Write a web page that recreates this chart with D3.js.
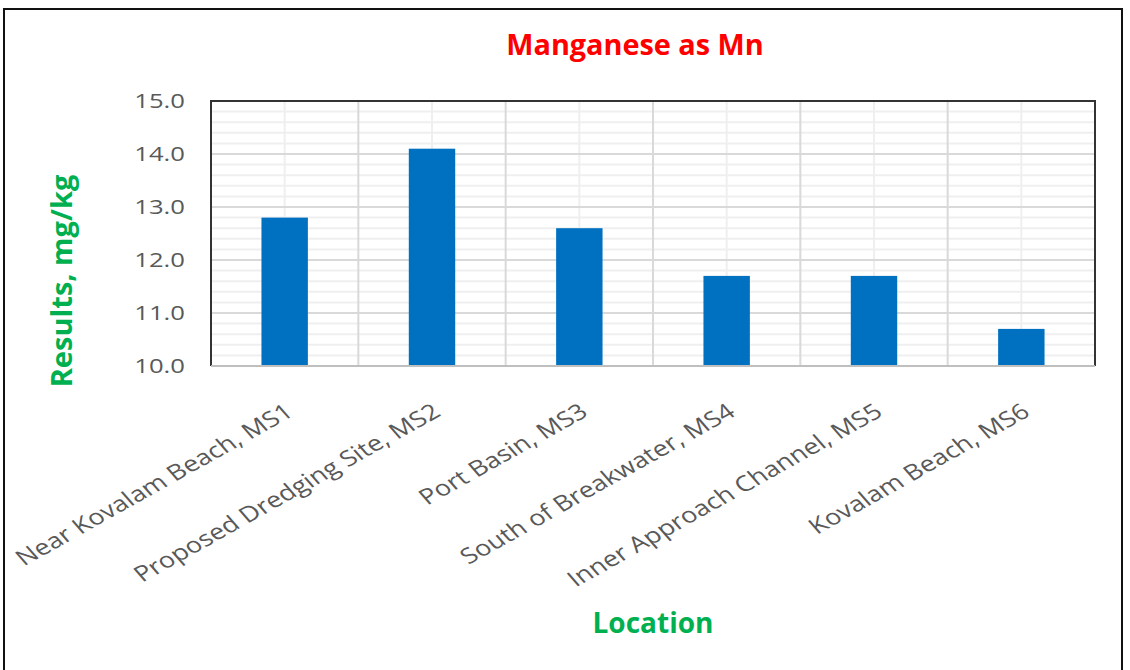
<!DOCTYPE html>
<html><head><meta charset="utf-8">
<script src="https://cdn.jsdelivr.net/npm/d3@7"></script>
<style>body{margin:0;background:#fff}svg{display:block}</style>
</head><body>
<svg id="c" width="1130" height="670"></svg>
<script>
const categories = ["Near Kovalam Beach, MS1","Proposed Dredging Site, MS2","Port Basin, MS3","South of Breakwater, MS4","Inner Approach Channel, MS5","Kovalam Beach, MS6"];
const values = [12.8, 14.1, 12.6, 11.7, 11.7, 10.7];
const yTicks = [10, 11, 12, 13, 14, 15];
const title = "Manganese as Mn";
const xTitle = "Location";
const yTitle = "Results, mg/kg";

const svg = d3.select("#c");
const font = "'Open Sans', 'Liberation Sans', sans-serif";
const SX = 1.25;
const L = 211, R = 1095, T = 101, B = 366;

svg.append("rect").attr("x",4).attr("y",9).attr("width",1118).attr("height",700)
  .attr("fill","#fff").attr("stroke","#111").attr("stroke-width",2);

const x = d3.scaleBand().domain(categories).range([L,R]).paddingInner(0.685).paddingOuter(0.3425);
const xb = d3.scaleBand().domain(categories).range([L,R]);
const y = d3.scaleLinear().domain([10,15]).range([B,T]);

const g = svg.append("g");
const minor = d3.range(10, 15.0001, 0.2).filter(v => Math.abs(v - Math.round(v)) > 1e-6);
g.selectAll(".hmin").data(minor).join("line")
  .attr("x1",L).attr("x2",R).attr("y1",d=>y(d)).attr("y2",d=>y(d))
  .attr("stroke","#efefef").attr("stroke-width",2);
g.selectAll(".vmin").data(categories).join("line")
  .attr("x1",d=>xb(d)+xb.bandwidth()/2).attr("x2",d=>xb(d)+xb.bandwidth()/2)
  .attr("y1",T).attr("y2",B).attr("stroke","#efefef").attr("stroke-width",2);
g.selectAll(".hmaj").data(yTicks).join("line")
  .attr("x1",L).attr("x2",R).attr("y1",d=>y(d)).attr("y2",d=>y(d))
  .attr("stroke","#d9d9d9").attr("stroke-width",2);
g.selectAll(".vmaj").data(categories.slice(1)).join("line")
  .attr("x1",d=>xb(d)).attr("x2",d=>xb(d))
  .attr("y1",T).attr("y2",B).attr("stroke","#d9d9d9").attr("stroke-width",2);

g.selectAll(".bar").data(values).join("rect")
  .attr("x",(d,i)=>x(categories[i])).attr("width",x.bandwidth())
  .attr("y",d=>y(d)).attr("height",d=>B - y(d))
  .attr("fill","#0070C0");

svg.append("path").attr("d",`M${L},${B}V${T}H${R}V${B}`).attr("fill","none")
  .attr("stroke","#333").attr("stroke-width",2);
svg.append("line").attr("x1",L).attr("x2",R).attr("y1",B).attr("y2",B)
  .attr("stroke","#bfbfbf").attr("stroke-width",2);

// y axis labels
const yAxis = d3.axisLeft(y).tickValues(yTicks).tickFormat(d3.format(".1f")).tickSize(0).tickPadding(0);
const ya = svg.append("g").attr("transform",`translate(${L},0)`).call(yAxis);
ya.select(".domain").remove();
ya.selectAll(".tick text").attr("font-family",font).attr("font-size",20.5).attr("fill","#595959")
  .attr("x",0).attr("text-anchor","end")
  .attr("transform",`translate(-26,0) scale(${SX},1)`);

// x axis labels
const xAxis = d3.axisBottom(xb).tickSize(0).tickPadding(0);
const xa = svg.append("g").attr("transform",`translate(0,${B})`).call(xAxis);
xa.select(".domain").remove();
xa.selectAll(".tick text")
  .attr("font-family",font).attr("font-size",21.7).attr("fill","#595959")
  .attr("text-anchor","end").attr("y",0).attr("dy","0.72em")
  .attr("transform",`translate(-1,36) scale(${SX},1) rotate(-35)`);

// titles
svg.append("text").attr("transform",`translate(635,55) scale(1.03,1)`).attr("text-anchor","middle")
  .attr("font-family",font).attr("font-weight","bold").attr("font-size",28).attr("fill","#FF0000").text(title);
svg.append("text").attr("transform",`translate(653,633)`).attr("text-anchor","middle")
  .attr("font-family",font).attr("font-weight","bold").attr("font-size",28).attr("fill","#00B050").text(xTitle);
svg.append("text").attr("transform","translate(72,281) rotate(-90)").attr("text-anchor","middle")
  .attr("font-family",font).attr("font-weight","bold").attr("font-size",29).attr("fill","#00B050").text(yTitle);
</script>
</body></html>
